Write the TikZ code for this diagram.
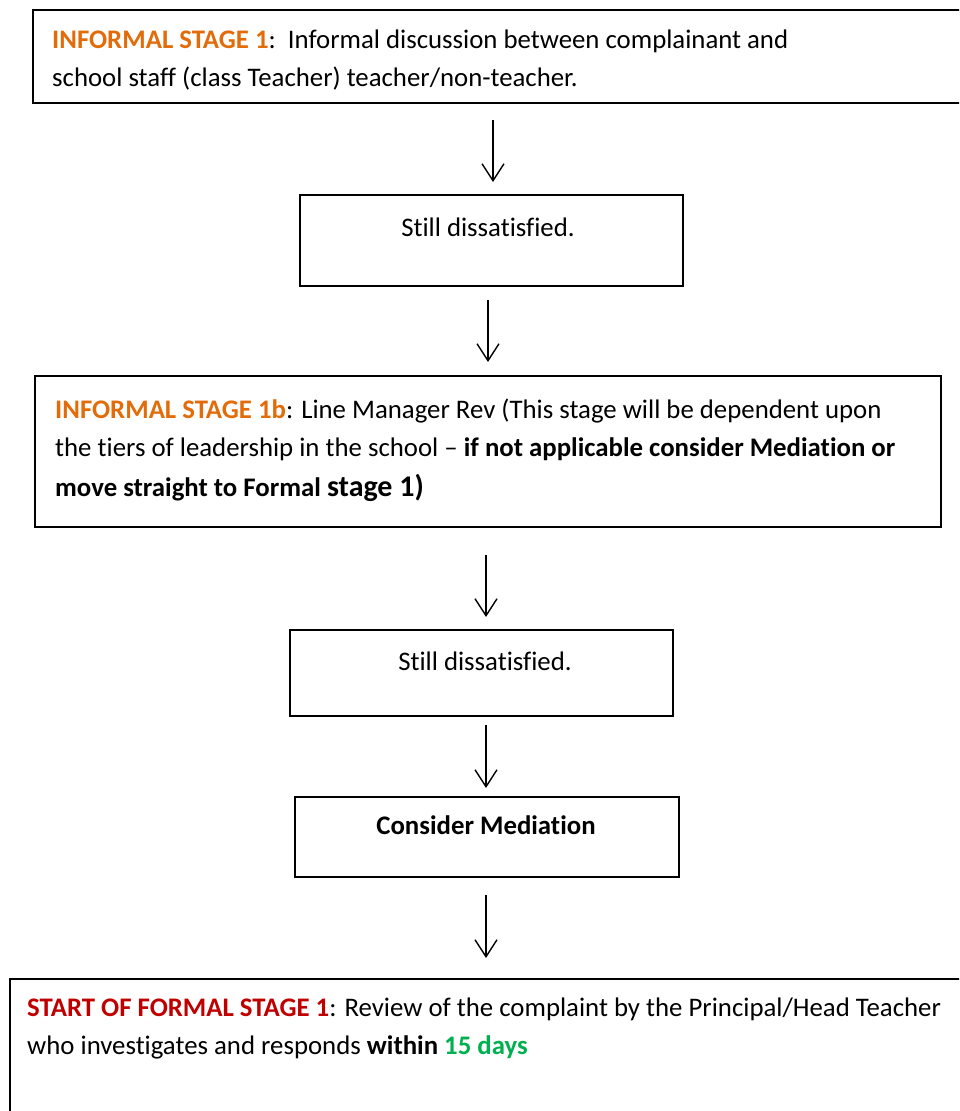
\documentclass[tikz,border=0pt]{standalone}
\usepackage{fontspec}
\setmainfont{Carlito}[Ligatures=NoCommon]
\usetikzlibrary{arrows.meta}
\definecolor{stageorange}{HTML}{E36C0A}
\definecolor{stagered}{HTML}{C00000}
\definecolor{daysgreen}{HTML}{00B050}
\begin{document}
\begin{tikzpicture}[x=1pt,y=-1pt,
  box/.style={draw=black,line width=1.4pt,rectangle},
  txt/.style={anchor=base west,inner sep=0pt,font=\fontsize{26.8}{31}\selectfont},
  ctxt/.style={anchor=base,inner sep=0pt,font=\fontsize{26.8}{31}\selectfont},
  flow/.style={line width=1.4pt,-{Straight Barb[length=17pt,width=22pt,line width=1.4pt]}}]
\useasboundingbox (0,0) rectangle (959,1111);
\clip (0,0) rectangle (959,1111);
% boxes
\draw[box] (33,10) rectangle (970,103);
\coordinate (b1s) at (493,120);
\draw[box] (300,195) rectangle (683,286);
\coordinate (b2n) at (493,195);
\coordinate (b2s) at (488,300);
\draw[box] (35,376) rectangle (941,527);
\coordinate (b3n) at (488,376);
\coordinate (b3s) at (486,555);
\draw[box] (290,630) rectangle (673,716);
\coordinate (b4n) at (486,630);
\coordinate (b4s) at (486,725);
\draw[box] (295,797) rectangle (679,877);
\coordinate (b5n) at (486,797);
\coordinate (b5s) at (486,895);
\draw[box] (10,979) rectangle (975,1130);
\coordinate (b6n) at (486,979);
% connectors
\draw[flow] (b1s) -- ([yshift=13]b2n);
\draw[flow] (b2s) -- ([yshift=14]b3n);
\draw[flow] (b3s) -- ([yshift=13]b4n);
\draw[flow] (b4s) -- ([yshift=9]b5n);
\draw[flow] (b5s) -- ([yshift=21]b6n);
% texts
\node[txt] (t1a) at (52,48) {\textcolor{stageorange}{\textbf{INFORMAL STAGE 1}}:\ \ Informal discussion between complainant and};
\node[txt] (t1b) at (52,86) {school staff (class Teacher) teacher/non-teacher.};
\node[ctxt] (t2) at (488,236) {Still dissatisfied.};
\node[txt] (t3a) at (55,418) {\textcolor{stageorange}{\textbf{INFORMAL STAGE 1b}}: Line Manager Rev (This stage will be dependent upon};
\node[txt] (t3b) at (55,456) {the tiers of leadership in the school -- \textbf{if not applicable consider Mediation or}};
\node[txt] (t3c) at (55,496) {\textbf{move straight to Formal {\fontsize{30}{34}\selectfont stage 1)}}};
\node[ctxt] (t4) at (485,670) {Still dissatisfied.};
\node[ctxt] (t5) at (486,834) {\textbf{Consider Mediation}};
\node[txt] (t6a) at (27,1016) {\textcolor{stagered}{\textbf{START OF FORMAL STAGE 1}}: Review of the complaint by the Principal/Head Teacher};
\node[txt] (t6b) at (27,1054) {who investigates and responds \textbf{within} \textcolor{daysgreen}{\textbf{15 days}}};
\end{tikzpicture}
\end{document}
